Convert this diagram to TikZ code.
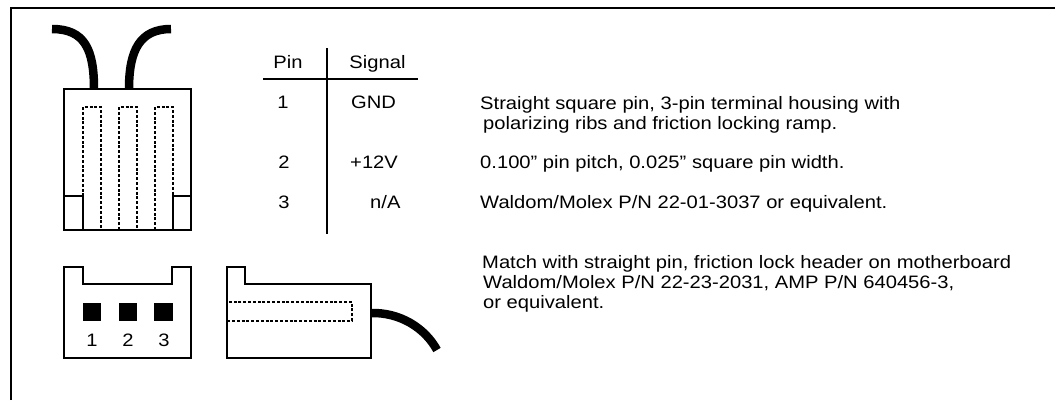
\documentclass[tikz,border=0pt]{standalone}
\usepackage{fontspec}
\setmainfont{Liberation Sans}
\begin{document}
\begin{tikzpicture}[x=1pt,y=-1pt,
  outline/.style={line width=1.6pt},
  frameline/.style={line width=2.4pt},
  tableline/.style={line width=2pt},
  slotline/.style={line width=1.5pt, dash pattern=on 3pt off 1.8pt},
  wire/.style={line width=8.5pt},
  txt/.style={font=\fontsize{18}{20}\selectfont, inner sep=0pt, transform shape, xscale=1.12}]
\useasboundingbox (0,0) rectangle (1055,400);
% frame
\draw[frameline] (10.7,400) -- (10.7,7.7) -- (1055,7.7);
% top connector
\draw[wire] (52,29) .. controls (85,29) and (94,50) .. (94,89);
\draw[wire] (171,29) .. controls (140,29) and (129,50) .. (129,89);
\draw[outline, fill=white] (64,89) rectangle (191,230);
\draw[outline] (64,196) rectangle (83,230);
\draw[outline] (173,196) rectangle (191,230);
\draw[slotline] (83,230) -- (83,107) -- (101,107) -- (101,230);
\draw[slotline] (119,230) -- (119,107) -- (137,107) -- (137,230);
\draw[slotline] (155,230) -- (155,107) -- (173,107) -- (173,230);
% bottom-left connector (front view)
\draw[outline] (64,267) -- (64,358) -- (191,358) -- (191,267) -- (172,267) -- (172,284) -- (83,284) -- (83,267) -- cycle;
\fill (82.5,303) rectangle (101,321);
\fill (118.5,303) rectangle (137,321);
\fill (153.5,303) rectangle (173,321);
\node[txt, anchor=base] (n1) at (92,346.5) {1};
\node[txt, anchor=base] (n2) at (128,346.5) {2};
\node[txt, anchor=base] (n3) at (164,346.5) {3};
% bottom-right connector (side view)
\draw[wire] (370,313) .. controls (400,312) and (425,328) .. (437,350);
\draw[outline, fill=white] (227,267) -- (245,267) -- (245,284) -- (371,284) -- (371,358) -- (227,358) -- cycle;
\draw[slotline] (227,302) rectangle (352,321);
% table
\draw[tableline] (263,79) -- (418,79);
\draw[tableline] (327,48) -- (327,234);
\node[txt, anchor=base] (hpin) at (288,68) {Pin};
\node[txt, anchor=base] (hsig) at (377.5,68) {Signal};
\node[txt, anchor=base] (p1) at (283,108) {1};
\node[txt, anchor=base west] (s1) at (351,108) {GND};
\node[txt, anchor=base] (p2) at (284,168) {2};
\node[txt, anchor=base west] (s2) at (350,168) {+12V};
\node[txt, anchor=base] (p3) at (284,208) {3};
\node[txt, anchor=base west] (s3) at (370,208) {n/A};
% descriptions
\node[txt, anchor=base west] (d1) at (480,109) {Straight square pin, 3-pin terminal housing with};
\node[txt, anchor=base west] (d2) at (483,129) {polarizing ribs and friction locking ramp.};
\node[txt, anchor=base west] (d3) at (480,168) {0.100" pin pitch, 0.025" square pin width.};
\node[txt, anchor=base west] (d4) at (480,208) {Waldom/Molex P/N 22-01-3037 or equivalent.};
\node[txt, anchor=base west] (d5) at (482,268) {Match with straight pin, friction lock header on motherboard};
\node[txt, anchor=base west] (d6) at (483,288) {Waldom/Molex P/N 22-23-2031, AMP P/N 640456-3,};
\node[txt, anchor=base west] (d7) at (483,308) {or equivalent.};
\end{tikzpicture}
\end{document}
